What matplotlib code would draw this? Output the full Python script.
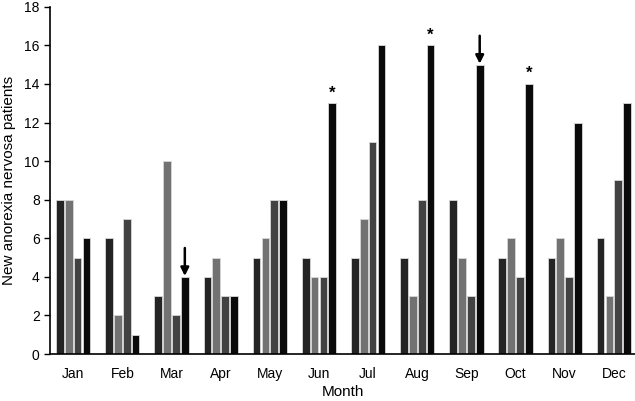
import matplotlib.pyplot as plt
import numpy as np

plt.rcParams['font.family'] = ['Liberation Sans', 'DejaVu Sans']

months = ["Jan", "Feb", "Mar", "Apr", "May", "Jun",
          "Jul", "Aug", "Sep", "Oct", "Nov", "Dec"]

# four series per month (dark, light, mid, black)
series_a = [8, 6, 3, 4, 5, 5, 5, 5, 8, 5, 5, 6]
series_b = [8, 2, 10, 5, 6, 4, 7, 3, 5, 6, 6, 3]
series_c = [5, 7, 2, 3, 8, 4, 11, 8, 3, 4, 4, 9]
series_d = [6, 1, 4, 3, 8, 13, 16, 16, 15, 14, 12, 13]

star_months = ["Jun", "Aug", "Oct"]
arrow_months = ["Mar", "Sep"]

colors = ["#242424", "#727272", "#424242", "#0a0a0a"]

fig = plt.figure(figsize=(6.35, 4.01), dpi=100)
ax = fig.add_axes([0.079, 0.117, 0.921, 0.866])

x = np.arange(len(months))
step = 0.18
width = 0.155
offsets = [-1.5 * step, -0.5 * step, 0.5 * step, 1.5 * step]
for vals, off, c in zip([series_a, series_b, series_c, series_d], offsets, colors):
    ax.bar(x + off, vals, width=width, color=c, edgecolor="#d8d8d8", linewidth=0.6)

for m in star_months:
    i = months.index(m)
    ax.text(x[i] + offsets[3], series_d[i] + 0.15, "*", ha="center", va="bottom",
            fontsize=12, fontweight="bold")

for m in arrow_months:
    i = months.index(m)
    top = series_d[i]
    ax.annotate("", xy=(x[i] + offsets[3], top + 0.05), xytext=(x[i] + offsets[3], top + 1.5),
                arrowprops=dict(arrowstyle="-|>", color="black", lw=1.8,
                                mutation_scale=12, shrinkA=0, shrinkB=0))

ax.set_xlim(-0.47, 11.43)
ax.set_ylim(0, 18)
ax.set_yticks(range(0, 19, 2))
ax.set_xticks(x)
ax.set_xticklabels(months)
ax.tick_params(axis="x", length=0, pad=9, labelsize=10)
ax.tick_params(axis="y", length=4, width=1, labelsize=10)
ax.spines["top"].set_visible(False)
ax.spines["right"].set_visible(False)
ax.spines["left"].set_linewidth(1.2)
ax.spines["bottom"].set_linewidth(1.2)

ax.set_xlabel("Month", fontsize=11, labelpad=3)
ax.set_ylabel("New anorexia nervosa patients", fontsize=11, labelpad=6)

fig.savefig("out.png", dpi=100)
